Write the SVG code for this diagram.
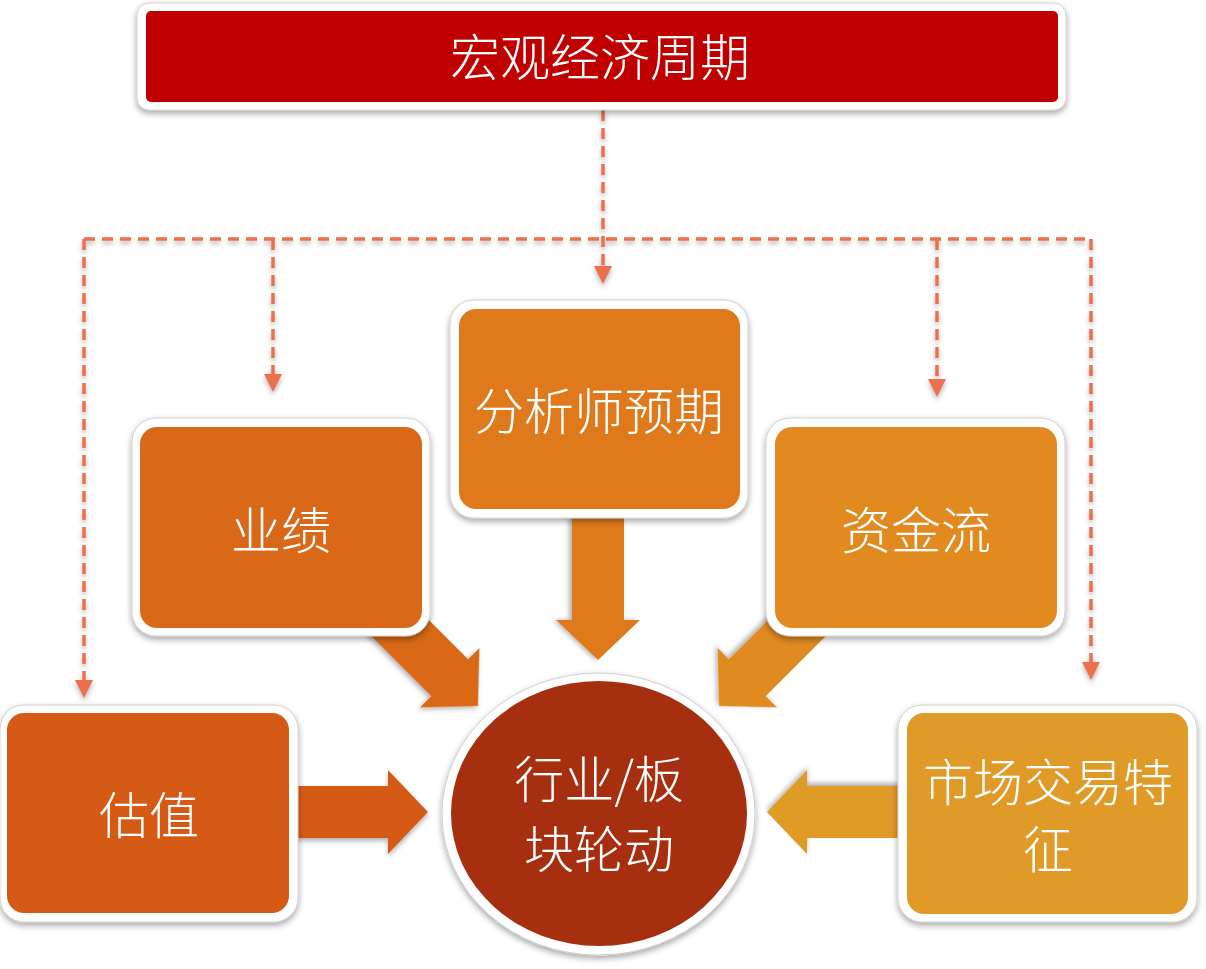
<svg xmlns="http://www.w3.org/2000/svg" width="1206" height="969" viewBox="0 0 1206 969">
<style>
.lbl{font-family:"Noto Sans CJK SC","Liberation Sans",sans-serif;font-size:50px;fill:#ffffff;text-anchor:middle;font-weight:300}
.outer{fill:#ffffff;stroke:#d0d0d0;stroke-width:1;filter:url(#sh)}
.dash{fill:none;stroke:#EC6F4C;stroke-width:3.5;stroke-dasharray:11 7}
.barrow{filter:url(#sh2)}
</style>
<defs>
<filter id="sh" x="-10%" y="-10%" width="120%" height="125%">
<feDropShadow dx="0" dy="3" stdDeviation="3" flood-color="#000" flood-opacity="0.35"/>
</filter>
<filter id="sh2" x="-20%" y="-20%" width="140%" height="140%">
<feDropShadow dx="0" dy="3" stdDeviation="2.5" flood-color="#000" flood-opacity="0.3"/>
</filter>
<marker id="ah" markerUnits="userSpaceOnUse" markerWidth="18" markerHeight="18" refX="0" refY="9" orient="auto">
<path d="M0,0 L18,9 L0,18 Z" fill="#EC6F4C"/>
</marker>
<polygon id="blk" points="-160,-26 -40,-26 -40,-42 0,0 -40,42 -40,26 -160,26"/>
</defs>
<g id="connectors">
<g filter="url(#sh2)">
<path class="dash" d="M603,110 V266" marker-end="url(#ah)"/>
<path class="dash" d="M84,239 H1091"/>
<path class="dash" d="M84,239 V680" marker-end="url(#ah)"/>
<path class="dash" d="M273,239 V374" marker-end="url(#ah)"/>
<path class="dash" d="M937,239 V379" marker-end="url(#ah)"/>
<path class="dash" d="M1091,239 V662" marker-end="url(#ah)"/>
</g>
<use href="#blk" class="barrow" fill="#D55A16" transform="translate(428,812)"/>
<use href="#blk" class="barrow" fill="#E09A28" transform="translate(767,812) rotate(180)"/>
<use href="#blk" class="barrow" fill="#DF7A1C" transform="translate(598,660) rotate(90)"/>
<use href="#blk" class="barrow" fill="#D96919" transform="translate(478,706) rotate(45)"/>
<use href="#blk" class="barrow" fill="#E08A20" transform="translate(719,706) rotate(135)"/>
</g>
<g id="macro">
<rect class="outer" x="137" y="3" width="929" height="107" rx="12"/>
<rect x="146" y="11" width="912" height="91" rx="5" fill="#C00000"/>
<text class="lbl" x="600" y="76">宏观经济周期</text>
</g>
<g id="analyst">
<rect class="outer" x="450" y="300" width="298" height="218" rx="24"/>
<rect x="459" y="309" width="281" height="200" rx="17" fill="#DF7A1C"/>
<text class="lbl" x="599" y="430">分析师预期</text>
</g>
<g id="earnings">
<rect class="outer" x="132" y="418" width="298" height="218" rx="24"/>
<rect x="140" y="427" width="282" height="201" rx="17" fill="#D96919"/>
<text class="lbl" x="281" y="549">业绩</text>
</g>
<g id="flow">
<rect class="outer" x="766" y="418" width="299" height="218" rx="24"/>
<rect x="775" y="427" width="282" height="201" rx="17" fill="#E08A20"/>
<text class="lbl" x="916" y="549">资金流</text>
</g>
<g id="valuation">
<rect class="outer" x="0" y="705" width="298" height="217" rx="24"/>
<rect x="7" y="713" width="282" height="200" rx="17" fill="#D55A16"/>
<text class="lbl" x="149" y="834">估值</text>
</g>
<g id="market">
<rect class="outer" x="898" y="705" width="299" height="217" rx="24"/>
<rect x="907" y="713" width="281" height="201" rx="17" fill="#E09A28"/>
<text class="lbl" x="1048" y="801">市场交易特</text>
<text class="lbl" x="1048" y="868">征</text>
</g>
<g id="rotation">
<ellipse class="outer" cx="598.5" cy="814" rx="156.5" ry="141"/>
<ellipse cx="599" cy="813.5" rx="148" ry="132.5" fill="#A52F0F"/>
<text class="lbl" x="599" y="798">行业/板</text>
<text class="lbl" x="599" y="868">块轮动</text>
</g>
</svg>
